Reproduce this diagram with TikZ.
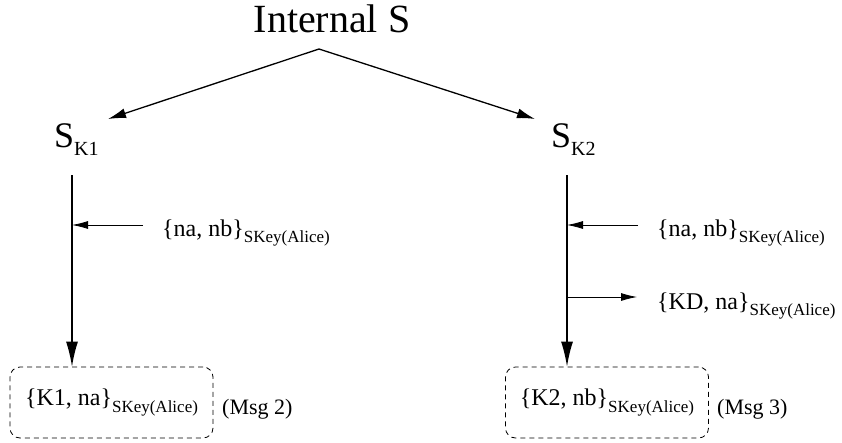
\documentclass[tikz,border=0pt]{standalone}
\usepackage{fontspec}
\setmainfont{Liberation Serif}
\usetikzlibrary{arrows.meta}

\newcommand{\keysub}[1]{\raisebox{-6pt}{\fontsize{17}{17}\selectfont #1}}

\begin{document}
\begin{tikzpicture}[x=1pt,y=-1pt,
    diag/.style={-{Latex[length=18pt,width=10pt]},line width=1.3pt},
    big/.style={-{Latex[length=25pt,width=12pt]},line width=1.4pt},
    msg/.style={-{Latex[length=16pt,width=8pt]},line width=0.8pt},
    txt/.style={anchor=base west,inner sep=0pt,font=\fontsize{24}{24}\selectfont},
    keybox/.style={draw,dash pattern=on 5pt off 4pt,rounded corners=10pt,
        minimum width=203pt,minimum height=71pt,line width=0.8pt,inner sep=0pt,
        font=\fontsize{24}{24}\selectfont}]
    \useasboundingbox (0,0) rectangle (842,442);

    % Server and its two keys
    \node[anchor=base,inner sep=0pt,font=\fontsize{40}{40}\selectfont] (srv) at (332,32) {Internal S};
    \node[anchor=base west,inner sep=0pt,font=\fontsize{36}{36}\selectfont] (sk1) at (54,147)
        {S\raisebox{-8pt}{\fontsize{20}{20}\selectfont K1}};
    \node[anchor=base west,inner sep=0pt,font=\fontsize{36}{36}\selectfont] (sk2) at (551,147)
        {S\raisebox{-8pt}{\fontsize{20}{20}\selectfont K2}};
    \coordinate (apex) at (319,49);
    \coordinate (tip1) at (108,119);
    \coordinate (tip2) at (535,119);
    \draw[diag] (apex) -- (tip1);
    \draw[diag] (apex) -- (tip2);

    % Results
    \node[keybox] (m2) at (111.5,402.5) {\{K1, na\}\keysub{SKey(Alice)}};
    \node[keybox] (m3) at (607,402.5) {\{K2, nb\}\keysub{SKey(Alice)}};
    \node[anchor=base west,inner sep=0pt,font=\fontsize{22}{22}\selectfont] (msg2) at (222,414) {(Msg 2)};
    \node[anchor=base west,inner sep=0pt,font=\fontsize{22}{22}\selectfont] (msg3) at (717,414) {(Msg 3)};

    % Time lines
    \coordinate (top1) at (72,175);
    \coordinate (top2) at (567,175);
    \draw[big] (top1) -- (top1 |- m2.north);
    \draw[big] (top2) -- (top2 |- m3.north);

    % Messages
    \node[txt] (na1) at (162,236) {\{na, nb\}\keysub{SKey(Alice)}};
    \node[txt] (na2) at (657,236) {\{na, nb\}\keysub{SKey(Alice)}};
    \node[txt] (kd) at (657,309) {\{KD, na\}\keysub{SKey(Alice)}};
    \coordinate (in1) at (143,225);
    \coordinate (in2) at (638,225);
    \coordinate (out2) at (637,297);
    \draw[msg] (in1) -- (in1 -| top1);
    \draw[msg] (in2) -- (in2 -| top2);
    \draw[msg] (out2 -| top2) -- (out2);
\end{tikzpicture}
\end{document}
